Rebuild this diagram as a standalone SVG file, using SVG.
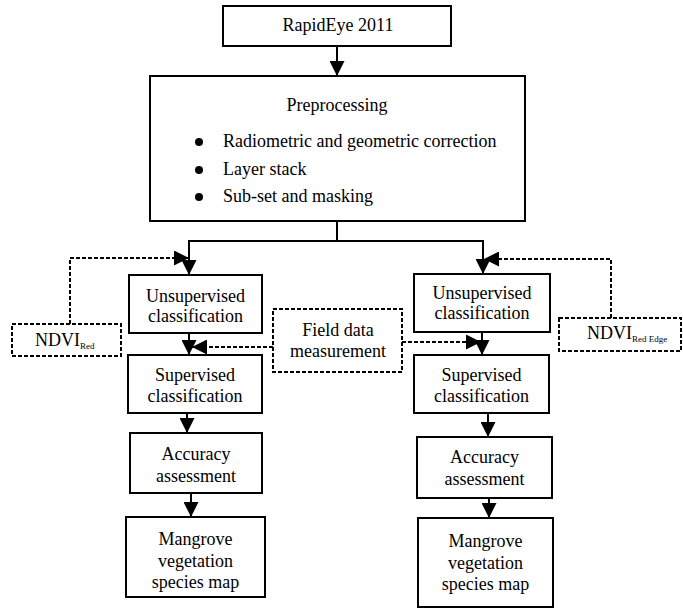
<svg xmlns="http://www.w3.org/2000/svg" width="683" height="609" viewBox="0 0 683 609">
<style>
text{font-family:"Liberation Serif","Times New Roman",serif;font-size:18px;fill:#000;text-anchor:middle}
.b{fill:#fff;stroke:#000;stroke-width:2}
.d{fill:#fff;stroke:#000;stroke-width:2;stroke-dasharray:4 2}
.c{fill:none;stroke:#000;stroke-width:2}
.cd{fill:none;stroke:#000;stroke-width:2;stroke-dasharray:4 2}
.l{text-anchor:start}
.s{font-size:9px}
</style>
<defs>
<marker id="ah" viewBox="0 0 15 15" refX="15" refY="7.5" markerWidth="15" markerHeight="15" markerUnits="userSpaceOnUse" orient="auto">
<path d="M0,0 L15,7.5 L0,15 z" fill="#000"/>
</marker>
</defs>
<g id="connectors">
<path class="c" d="M337,46 V76" marker-end="url(#ah)"/>
<path class="c" d="M337,221 V241 H189 V275" marker-end="url(#ah)"/>
<path class="c" d="M337,241 H483 V274" marker-end="url(#ah)"/>
<path class="cd" d="M70,324 V258 H189" marker-end="url(#ah)"/>
<path class="cd" d="M611,318 V259 H484" marker-end="url(#ah)"/>
<path class="c" d="M189,333 V355" marker-end="url(#ah)"/>
<path class="c" d="M482,332 V355" marker-end="url(#ah)"/>
<path class="cd" d="M273,347 H192" marker-end="url(#ah)"/>
<path class="cd" d="M402,342 H481" marker-end="url(#ah)"/>
<path class="c" d="M187,413 V433" marker-end="url(#ah)"/>
<path class="c" d="M488,413 V437" marker-end="url(#ah)"/>
<path class="c" d="M191,493 V517" marker-end="url(#ah)"/>
<path class="c" d="M489,498 V518" marker-end="url(#ah)"/>
</g>
<g id="rapideye">
<rect class="b" x="223" y="6" width="228" height="40"/>
<text x="338" y="31">RapidEye 2011</text>
</g>
<g id="preprocessing">
<rect class="b" x="150" y="76" width="375" height="145"/>
<text x="337" y="111">Preprocessing</text>
<circle cx="199" cy="142" r="4"/>
<circle cx="199" cy="170" r="4"/>
<circle cx="199" cy="197" r="4"/>
<text class="l" x="223" y="147">Radiometric and geometric correction</text>
<text class="l" x="223" y="175">Layer stack</text>
<text class="l" x="223" y="202">Sub-set and masking</text>
</g>
<g id="ndvi-red">
<rect class="d" x="12" y="324" width="109" height="32"/>
<text class="l" x="35" y="346">NDVI<tspan class="s" dy="3">Red</tspan></text>
</g>
<g id="ndvi-rededge">
<rect class="d" x="559" y="318" width="122" height="33"/>
<text class="l" x="587" y="339">NDVI<tspan class="s" dy="3">Red Edge</tspan></text>
</g>
<g id="field">
<rect class="d" x="273" y="309" width="129" height="63"/>
<text x="338" y="336">Field data</text>
<text x="338" y="357">measurement</text>
</g>
<g id="unsup-left">
<rect class="b" x="129" y="275" width="133" height="58"/>
<text x="195.5" y="302">Unsupervised</text>
<text x="195.5" y="322">classification</text>
</g>
<g id="unsup-right">
<rect class="b" x="414" y="274" width="136" height="58"/>
<text x="482" y="299">Unsupervised</text>
<text x="482" y="319">classification</text>
</g>
<g id="sup-left">
<rect class="b" x="128" y="355" width="134" height="58"/>
<text x="195" y="381">Supervised</text>
<text x="195" y="402">classification</text>
</g>
<g id="sup-right">
<rect class="b" x="414" y="355" width="135" height="58"/>
<text x="481.5" y="381">Supervised</text>
<text x="481.5" y="402">classification</text>
</g>
<g id="acc-left">
<rect class="b" x="130" y="433" width="132" height="60"/>
<text x="196" y="460">Accuracy</text>
<text x="196" y="482">assessment</text>
</g>
<g id="acc-right">
<rect class="b" x="417" y="437" width="135" height="61"/>
<text x="484.5" y="463">Accuracy</text>
<text x="484.5" y="485">assessment</text>
</g>
<g id="map-left">
<rect class="b" x="126" y="517" width="139" height="80"/>
<text x="195.5" y="545">Mangrove</text>
<text x="195.5" y="567">vegetation</text>
<text x="195.5" y="588">species map</text>
</g>
<g id="map-right">
<rect class="b" x="418" y="518" width="135" height="89"/>
<text x="485.5" y="547">Mangrove</text>
<text x="485.5" y="569">vegetation</text>
<text x="485.5" y="590">species map</text>
</g>
</svg>
